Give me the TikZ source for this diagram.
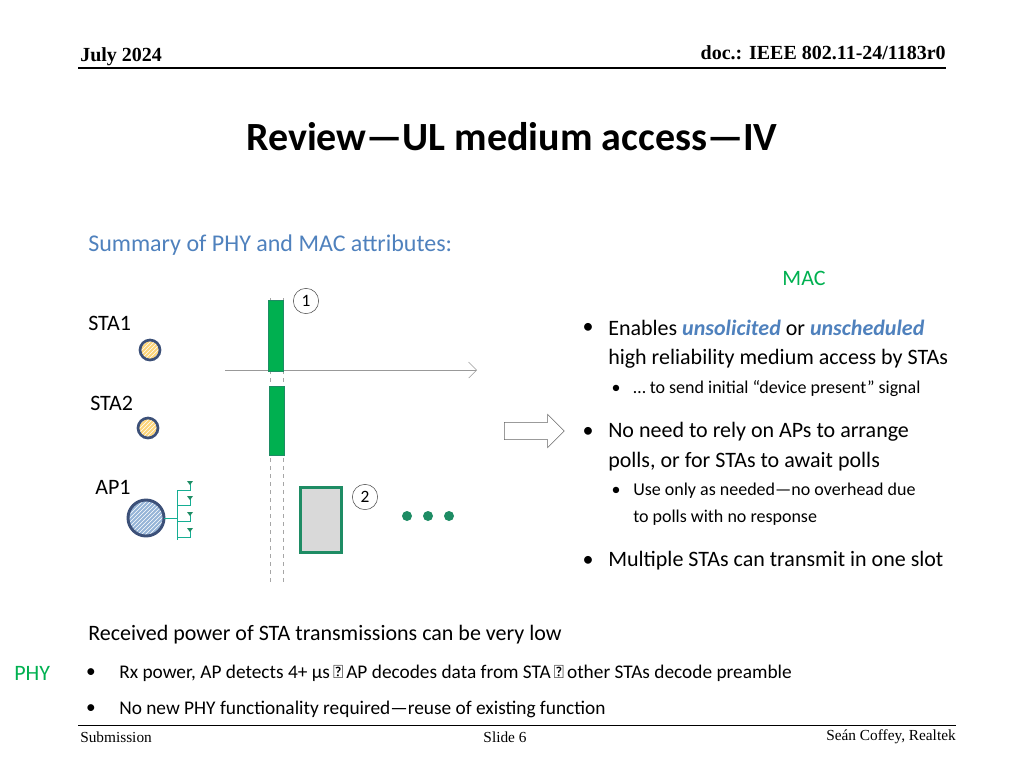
\documentclass[tikz,border=0pt]{standalone}
\usepackage{fontspec}
\setmainfont{Carlito}
\newfontfamily\tms{Liberation Serif}
\usetikzlibrary{patterns,shapes.arrows,arrows.meta}
\definecolor{gr}{RGB}{0,176,80}
\definecolor{dg}{RGB}{30,140,100}
\definecolor{bl}{RGB}{79,129,189}
\definecolor{nv}{RGB}{60,80,120}
\begin{document}
\begin{tikzpicture}[x=0.75pt,y=-0.75pt,
  txt/.style={anchor=west,inner sep=0pt,font=\fontsize{16.5}{19}\selectfont},
  sub/.style={anchor=west,inner sep=0pt,font=\fontsize{13.5}{16}\selectfont},
  foot/.style={inner sep=0pt,font=\tms\fontsize{11.5}{13}\selectfont},
  num/.style={circle,draw=black!70,thin,minimum size=19pt,inner sep=0pt,font=\fontsize{13}{14}\selectfont}]
\useasboundingbox (0,0) rectangle (1024,768);
% header
\node[anchor=west,inner sep=0pt,font=\tms\bfseries\fontsize{15}{17}\selectfont] (date) at (80,57) {July 2024};
\node[anchor=east,inner sep=0pt,font=\tms\bfseries\fontsize{15}{17}\selectfont] (doc) at (946,53) {doc.: IEEE 802.11-24/1183r0};
\draw[thick] (78,68) -- (946,68);
\node[inner sep=0pt,font=\bfseries\fontsize{30}{34}\selectfont] (title) at (512,137) {Review—UL medium access—IV};
\node[txt,text=bl,font=\fontsize{18}{20}\selectfont] (sum) at (88,245) {Summary of PHY and MAC attributes:};
\node[inner sep=0pt,text=gr,font=\fontsize{16.5}{19}\selectfont] (mac) at (804,278) {MAC};
% diagram
\node[txt] (s1) at (88,323) {STA1};
\node[txt] (s2) at (90,403) {STA2};
\node[txt] (ap) at (95,487) {AP1};
\foreach \n/\x/\y/\r in {c1/150/350/10,c2/148/428/10}{
  \fill[yellow!40!orange!50] (\x,\y) circle (\r);
  \fill[pattern=north east lines,pattern color=white] (\x,\y) circle (\r);
  \draw[nv,line width=2pt] (\x,\y) circle (\r);
  \coordinate (\n) at (\x,\y);}
\fill[bl!60] (146,518) circle (18);
\fill[pattern=north east lines,pattern color=white] (146,518) circle (18);
\draw[nv,line width=2.2pt] (146,518) circle (18);
\coordinate (apc) at (164,518);
\coordinate (tr) at (177,518);
\draw[dg!70!cyan] (apc) -- (tr);
\draw[dg!70!cyan] (177,490) -- (177,540);
\foreach \y in {490,505,521,537}{
  \draw[dg!70!cyan] (177,\y) -- (190,\y) -- (190,\y-6);
  \fill[dg] (187,\y-9) -- (193,\y-9) -- (190,\y-5) -- cycle;}
\draw[gray!70,dashed] (270,298) -- (270,582);
\draw[gray!70,dashed] (283,298) -- (283,582);
\draw[gray!80,-{Straight Barb[length=6pt]}] (225,370) -- (477,370);
\node[draw=dg,fill=gr,minimum width=11pt,minimum height=53pt,inner sep=0pt] (r1) at (276,336) {};
\node[draw=dg,fill=gr,minimum width=11pt,minimum height=52pt,inner sep=0pt] (r2) at (277,421) {};
\node[num] (n1) at (306,301) {1};
\node[num] (n2) at (365,497) {2};
\node[draw=dg,line width=2pt,fill=gray!30,minimum width=31pt,minimum height=49pt,inner sep=0pt] (r3) at (321,520) {};
\foreach \x in {407,428,449}{\fill[dg] (\x,516) circle (5);}
\node[single arrow,draw=gray!80!black,fill=white,minimum height=45pt,minimum width=25pt,single arrow head extend=4pt,inner sep=4pt] (ba) at (530,431) {};
% MAC bullets
\foreach \y in {328,432,561}{\node[inner sep=0pt,font=\fontsize{16.5}{19}\selectfont] at (588,\y) {•};}
\node[txt] (b1) at (608,328) {Enables \textbf{\textit{\color{bl}unsolicited}} or \textbf{\textit{\color{bl}unscheduled}}};
\node[txt] (b1b) at (608,359) {high reliability medium access by STAs};
\node[sub] (b1s) at (633,389) {… to send initial “device present” signal};
\node[txt] (b2) at (608,432) {No need to rely on APs to arrange};
\node[txt] (b2b) at (608,462) {polls, or for STAs to await polls};
\node[sub] (b2s) at (633,491) {Use only as needed—no overhead due};
\node[sub] (b2t) at (633,518) {to polls with no response};
\node[txt] (b3) at (608,561) {Multiple STAs can transmit in one slot};
\foreach \y in {389,491}{\node[inner sep=0pt,font=\fontsize{13.5}{16}\selectfont] at (616,\y) {•};}
% PHY
\node[txt] (rec) at (88,635) {Received power of STA transmissions can be very low};
\node[txt,text=gr] (phy) at (14,673) {PHY};
\foreach \y in {673,709}{\node[inner sep=0pt,font=\fontsize{14.5}{16}\selectfont] at (91,\y) {•};}
\node[anchor=west,inner sep=0pt,font=\fontsize{14.5}{17}\selectfont] (p1) at (119,673) {Rx power, AP detects 4+ µs\,≪\,AP decodes data from STA\,≪\,other STAs decode preamble};
\node[anchor=west,inner sep=0pt,font=\fontsize{14.5}{17}\selectfont] (p2) at (119,709) {No new PHY functionality required—reuse of existing function};
% footer
\draw (78,725) -- (956,725);
\node[foot,anchor=west] (subm) at (80,737) {Submission};
\node[foot] (sl) at (505,737) {Slide 6};
\node[foot,anchor=east] (auth) at (956,737) {Seán Coffey, Realtek};
\end{tikzpicture}
\end{document}
